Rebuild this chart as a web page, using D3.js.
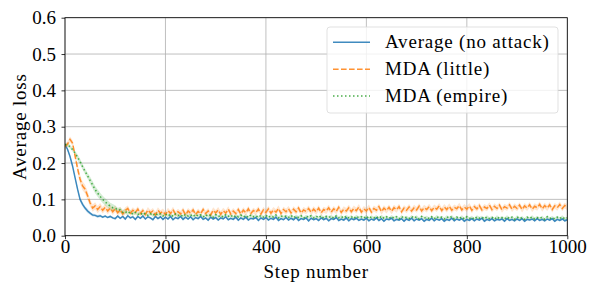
<!DOCTYPE html>
<html>
<head>
<meta charset="utf-8">
<script src="https://cdn.jsdelivr.net/npm/d3@7"></script>
<style>
  html, body { margin: 0; padding: 0; background: #fff; }
  svg { display: block; }
</style>
</head>
<body>
<svg id="chart" width="598" height="292"></svg>
<script>
// ---------------- data ----------------
const stepInterval = 5;      // one value every 5 steps, 0..1000
const xTicks = [0, 200, 400, 600, 800, 1000];
const yTicks = [0.0, 0.1, 0.2, 0.3, 0.4, 0.5, 0.6];
const seriesNames = ["Average (no attack)", "MDA (little)", "MDA (empire)"];

const avgNoAttack = [
  0.250,0.238,0.218,0.192,0.160,0.128,0.100,0.086,0.076,0.068,
  0.062,0.057,0.056,0.053,0.055,0.051,0.054,0.050,0.053,0.049,
  0.047,0.054,0.048,0.053,0.046,0.055,0.049,0.052,0.045,0.053,
  0.048,0.054,0.046,0.052,0.049,0.044,0.053,0.047,0.052,0.045,
  0.051,0.046,0.053,0.044,0.050,0.047,0.053,0.045,0.051,0.046,
  0.052,0.044,0.050,0.047,0.053,0.045,0.049,0.043,0.051,0.046,
  0.050,0.043,0.049,0.046,0.052,0.044,0.048,0.045,0.051,0.043,
  0.049,0.045,0.051,0.043,0.048,0.046,0.050,0.042,0.049,0.045,
  0.050,0.043,0.048,0.045,0.051,0.042,0.047,0.044,0.050,0.043,
  0.048,0.044,0.050,0.042,0.047,0.045,0.049,0.041,0.048,0.044,
  0.047,0.042,0.049,0.044,0.048,0.041,0.047,0.045,0.050,0.042,
  0.046,0.043,0.049,0.041,0.047,0.044,0.048,0.042,0.046,0.043,
  0.048,0.041,0.046,0.043,0.049,0.042,0.047,0.040,0.046,0.044,
  0.048,0.041,0.045,0.043,0.047,0.040,0.046,0.042,0.048,0.041,
  0.046,0.043,0.047,0.040,0.045,0.042,0.048,0.041,0.046,0.043,
  0.047,0.040,0.045,0.042,0.048,0.041,0.046,0.043,0.047,0.040,
  0.045,0.042,0.047,0.041,0.046,0.043,0.048,0.040,0.045,0.042,
  0.047,0.041,0.045,0.043,0.046,0.040,0.047,0.042,0.045,0.041,
  0.046,0.042,0.047,0.040,0.045,0.043,0.046,0.041,0.047,0.042,
  0.045,0.041,0.046,0.043,0.047,0.040,0.045,0.042,0.046,0.041,
  0.044
];

const mdaLittle = [
  0.245,0.252,0.265,0.255,0.220,0.185,0.155,0.137,0.128,0.110,
  0.090,0.076,0.082,0.072,0.080,0.070,0.078,0.068,0.076,0.066,
  0.074,0.063,0.071,0.060,0.069,0.075,0.062,0.070,0.064,0.073,
  0.061,0.069,0.058,0.071,0.063,0.068,0.057,0.070,0.062,0.067,
  0.058,0.069,0.061,0.072,0.059,0.066,0.060,0.070,0.057,0.068,
  0.062,0.071,0.058,0.067,0.060,0.072,0.061,0.068,0.057,0.070,
  0.063,0.071,0.059,0.069,0.062,0.073,0.060,0.068,0.061,0.072,
  0.060,0.070,0.063,0.074,0.061,0.069,0.064,0.073,0.060,0.071,
  0.064,0.074,0.062,0.071,0.065,0.075,0.061,0.072,0.066,0.074,
  0.063,0.073,0.066,0.076,0.062,0.071,0.067,0.075,0.064,0.073,
  0.066,0.076,0.063,0.072,0.068,0.077,0.065,0.074,0.067,0.078,
  0.064,0.073,0.068,0.077,0.066,0.075,0.069,0.079,0.065,0.074,
  0.068,0.078,0.065,0.075,0.070,0.080,0.066,0.076,0.069,0.078,
  0.067,0.077,0.071,0.080,0.066,0.076,0.070,0.079,0.068,0.077,
  0.071,0.081,0.068,0.077,0.072,0.080,0.069,0.078,0.073,0.082,
  0.069,0.079,0.072,0.081,0.070,0.078,0.074,0.083,0.071,0.079,
  0.073,0.082,0.070,0.080,0.074,0.083,0.071,0.079,0.075,0.084,
  0.072,0.081,0.075,0.084,0.071,0.080,0.076,0.085,0.073,0.081,
  0.075,0.084,0.072,0.082,0.076,0.085,0.073,0.081,0.077,0.086,
  0.074,0.083,0.076,0.085,0.072,0.082,0.077,0.086,0.075,0.083,
  0.078
];

const mdaEmpire = [
  0.250,0.250,0.245,0.237,0.228,0.216,0.204,0.190,0.177,0.165,
  0.152,0.140,0.127,0.117,0.108,0.100,0.093,0.087,0.081,0.077,
  0.076,0.070,0.071,0.064,0.067,0.061,0.066,0.059,0.064,0.058,
  0.063,0.057,0.062,0.056,0.061,0.055,0.062,0.056,0.060,0.054,
  0.060,0.054,0.059,0.053,0.060,0.055,0.058,0.052,0.059,0.054,
  0.058,0.052,0.059,0.054,0.057,0.051,0.058,0.053,0.057,0.051,
  0.058,0.052,0.056,0.051,0.058,0.053,0.057,0.050,0.056,0.052,
  0.057,0.051,0.056,0.050,0.057,0.052,0.055,0.050,0.056,0.051,
  0.056,0.050,0.055,0.051,0.057,0.049,0.055,0.051,0.054,0.050,
  0.056,0.049,0.054,0.050,0.055,0.048,0.054,0.050,0.055,0.049,
  0.054,0.049,0.055,0.048,0.053,0.050,0.054,0.048,0.055,0.049,
  0.053,0.048,0.054,0.049,0.053,0.047,0.054,0.049,0.052,0.048,
  0.054,0.047,0.052,0.049,0.053,0.047,0.054,0.048,0.052,0.047,
  0.053,0.048,0.052,0.046,0.053,0.048,0.051,0.047,0.053,0.048,
  0.052,0.046,0.053,0.048,0.051,0.047,0.052,0.046,0.053,0.048,
  0.051,0.046,0.052,0.048,0.053,0.046,0.051,0.047,0.052,0.046,
  0.052,0.047,0.051,0.045,0.052,0.048,0.051,0.046,0.052,0.047,
  0.051,0.045,0.052,0.047,0.050,0.046,0.052,0.047,0.051,0.045,
  0.052,0.047,0.050,0.045,0.051,0.047,0.052,0.046,0.050,0.047,
  0.051,0.045,0.052,0.047,0.050,0.046,0.051,0.047,0.052,0.046,
  0.049
];

// spread (std) of each series, one value per 25 steps (41 values)
const spreadAvg = [0.004,0.006,0.004,0.003,0.003,0.003,0.003,0.003,0.003,0.003,0.003,0.003,0.003,0.003,0.003,0.003,0.003,0.003,0.003,0.003,0.003,
  0.003,0.003,0.003,0.003,0.003,0.003,0.003,0.003,0.003,0.003,0.003,0.003,0.003,0.003,0.003,0.003,0.003,0.003,0.003,0.003];
const spreadLittle = [0.008,0.012,0.010,0.009,0.009,0.008,0.008,0.008,0.008,0.008,0.008,0.008,0.008,0.008,0.008,0.008,0.008,0.008,0.008,0.008,0.008,
  0.008,0.008,0.008,0.008,0.008,0.008,0.008,0.008,0.008,0.008,0.008,0.008,0.008,0.008,0.008,0.008,0.008,0.008,0.008,0.008];
const spreadEmpire = [0.005,0.008,0.010,0.010,0.007,0.005,0.004,0.004,0.004,0.004,0.004,0.004,0.004,0.004,0.004,0.004,0.004,0.004,0.004,0.004,0.004,
  0.004,0.004,0.004,0.004,0.004,0.004,0.004,0.004,0.004,0.004,0.004,0.004,0.004,0.004,0.004,0.004,0.004,0.004,0.004,0.004];

// ---------------- chart ----------------
const FONT = "'Liberation Serif', 'Times New Roman', serif";
const FS = 19;
const W = 598, H = 292;
const m = { left: 65, right: 598 - 567.3, top: 17.7, bottom: 292 - 235.7 };
const svg = d3.select("#chart");

const x = d3.scaleLinear().domain([0, 1000]).range([m.left, W - m.right]);
const y = d3.scaleLinear().domain([0, 0.6]).range([H - m.bottom, m.top]);

const series = [
  { name: seriesNames[0], values: avgNoAttack, spread: spreadAvg, color: "#1f77b4", dash: null },
  { name: seriesNames[1], values: mdaLittle, spread: spreadLittle, color: "#ff7f0e", dash: "5.6,2.4" },
  { name: seriesNames[2], values: mdaEmpire, spread: spreadEmpire, color: "#2ca02c", dash: "1.5,2.5" }
];

// grid
const grid = svg.append("g");
grid.selectAll("line.vx").data(xTicks).join("line")
  .attr("x1", d => x(d)).attr("x2", d => x(d))
  .attr("y1", y(0)).attr("y2", y(0.6))
  .attr("stroke", "#b0b0b0").attr("stroke-width", 0.8);
grid.selectAll("line.hy").data(yTicks).join("line")
  .attr("x1", x(0)).attr("x2", x(1000))
  .attr("y1", d => y(d)).attr("y2", d => y(d))
  .attr("stroke", "#b0b0b0").attr("stroke-width", 0.8);

svg.append("clipPath").attr("id", "clip").append("rect")
  .attr("x", x(0)).attr("y", y(0.6)).attr("width", x(1000) - x(0)).attr("height", y(0) - y(0.6));

const plot = svg.append("g").attr("clip-path", "url(#clip)");

series.forEach(s => {
  const pts = s.values.map((v, i) => ({ step: i * stepInterval, v, sd: s.spread[Math.floor(i * stepInterval / 25)] }));
  const area = d3.area()
    .x(d => x(d.step))
    .y0(d => y(d.v - d.sd))
    .y1(d => y(d.v + d.sd));
  plot.append("path").datum(pts).attr("d", area)
    .attr("fill", s.color).attr("fill-opacity", 0.2).attr("stroke", "none");
});
series.forEach(s => {
  const pts = s.values.map((v, i) => ({ step: i * stepInterval, v }));
  const line = d3.line().x(d => x(d.step)).y(d => y(d.v));
  plot.append("path").datum(pts).attr("d", line)
    .attr("fill", "none").attr("stroke", s.color).attr("stroke-opacity", 0.85)
    .attr("stroke-width", 1.5).attr("stroke-dasharray", s.dash);
});

// axes
const xAxis = d3.axisBottom(x).tickValues(xTicks).tickSize(3.5).tickFormat(d3.format("d"));
const yAxis = d3.axisLeft(y).tickValues(yTicks).tickSize(3.5).tickPadding(5.5).tickFormat(d3.format(".1f"));
const gx = svg.append("g").attr("transform", `translate(0,${y(0)})`).call(xAxis);
const gy = svg.append("g").attr("transform", `translate(${x(0)},0)`).call(yAxis);
[gx, gy].forEach(g => {
  g.select(".domain").remove();
  g.selectAll(".tick line").attr("stroke", "#000").attr("stroke-width", 0.8);
  g.selectAll(".tick text").style("font-family", FONT).style("font-size", FS + "px").attr("fill", "#000");
});
gx.selectAll(".tick text").attr("dy", null).attr("y", 17.5);
gy.selectAll(".tick text").attr("dy", "0.33em");

// frame
svg.append("rect")
  .attr("x", x(0)).attr("y", y(0.6)).attr("width", x(1000) - x(0)).attr("height", y(0) - y(0.6))
  .attr("fill", "none").attr("stroke", "#000").attr("stroke-width", 0.8);

// axis labels
svg.append("text").attr("x", (x(0) + x(1000)) / 2).attr("y", 278)
  .attr("text-anchor", "middle").style("font-family", FONT).style("font-size", FS + "px")
  .style("letter-spacing", "0.8px").text("Step number");
svg.append("text").attr("transform", `translate(26,${(y(0) + y(0.6)) / 2}) rotate(-90)`)
  .attr("text-anchor", "middle").style("font-family", FONT).style("font-size", FS + "px")
  .style("letter-spacing", "0.8px").text("Average loss");

// legend
const lg = svg.append("g");
lg.append("rect").attr("x", 327).attr("y", 27).attr("width", 231).attr("height", 86)
  .attr("rx", 3).attr("fill", "#fff").attr("fill-opacity", 0.8)
  .attr("stroke", "#d9d9d9").attr("stroke-width", 0.8);
series.forEach((s, i) => {
  const yy = 42.3 + i * 26.9;
  lg.append("line").attr("x1", 333).attr("x2", 370).attr("y1", yy).attr("y2", yy)
    .attr("stroke", s.color).attr("stroke-opacity", 0.85).attr("stroke-width", 1.5)
    .attr("stroke-dasharray", s.dash);
  lg.append("text").attr("x", 385).attr("y", yy + 6).style("font-family", FONT)
    .style("font-size", FS + "px").style("letter-spacing", "0.8px").text(s.name);
});
</script>
</body>
</html>
